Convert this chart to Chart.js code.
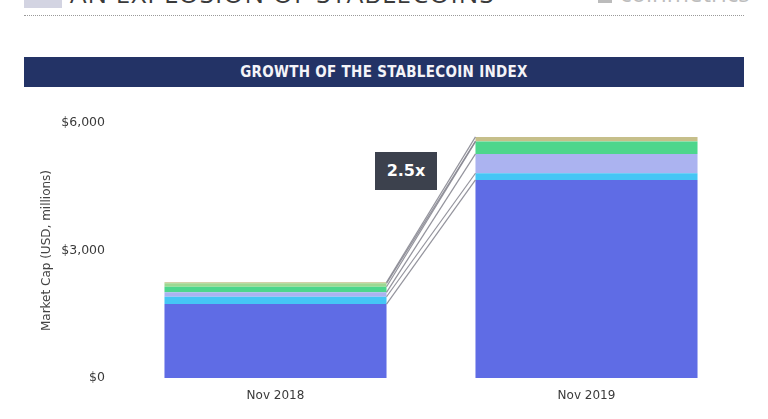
<!DOCTYPE html>
<html>
<head>
<meta charset="utf-8">
<script src="https://cdn.jsdelivr.net/npm/chart.js@4"></script>
<style>
  body { margin: 0; background: #fff; width: 768px; height: 419px; overflow: hidden; position: relative; font-family: "DejaVu Sans", sans-serif; }
  #myChart { position: absolute; left: 0; top: 0; }
  .sq { position: absolute; left: 24px; top: 0; width: 38px; height: 8px; background: #d3d4e2; }
  .head { position: absolute; left: 70px; top: -20px; font: 26px/26px "Open Sans", sans-serif; color: #3a3a3a; letter-spacing: 1px; white-space: nowrap; }
  .logo { position: absolute; left: 598px; top: 0; width: 14px; height: 3px; background: #bbb; }
  .brand { position: absolute; left: 620px; top: -19px; font: 24px/24px "Open Sans", sans-serif; color: #bdbdbd; white-space: nowrap; }
  .dots { position: absolute; left: 24px; top: 15px; width: 720px; border-top: 1px dotted #9a9a9a; }
  .band { position: absolute; left: 24px; top: 57px; width: 720px; height: 30px; background: #233366; color: #f4f4f8;
          font: bold 15px/30px "DejaVu Sans Condensed", sans-serif; letter-spacing: 0.3px; text-align: center; }
  .mult { position: absolute; left: 375px; top: 152px; width: 62px; height: 38px; background: #3c414d; color: #fff;
          font: bold 16px/38px "DejaVu Sans", sans-serif; text-align: center; z-index: 2; }
</style>
</head>
<body>
<div class="sq"></div>
<div class="head">AN EXPLOSION OF STABLECOINS</div>
<div class="logo"></div>
<div class="brand">coinmetrics</div>
<div class="dots"></div>
<div class="band">GROWTH OF THE STABLECOIN INDEX</div>
<canvas id="myChart" width="768" height="419"></canvas>
<div class="mult">2.5x</div>
<script>
const categories = ['Nov 2018', 'Nov 2019'];
const usdtValues = [1740, 4660];
const usdcValues = [172, 158];
const paxValues = [104, 455];
const tusdValues = [132, 290];
const daiValues = [80, 10];
const gusdValues = [25, 100];
const yTicks = [0, 3000, 6000];

// connector lines between the tops of each stacked layer
const connectors = {
  id: 'connectors',
  afterDatasetsDraw(chart) {
    const ctx = chart.ctx;
    const y = chart.scales.y;
    const sums = [0, 0];
    ctx.save();
    ctx.strokeStyle = 'rgba(135,135,145,0.9)';
    ctx.lineWidth = 1.2;
    chart.data.datasets.forEach((ds, i) => {
      sums[0] += ds.data[0];
      sums[1] += ds.data[1];
      const meta = chart.getDatasetMeta(i);
      const b0 = meta.data[0], b1 = meta.data[1];
      ctx.beginPath();
      ctx.moveTo(b0.x + b0.width / 2, y.getPixelForValue(sums[0]));
      ctx.lineTo(b1.x - b1.width / 2, y.getPixelForValue(sums[1]));
      ctx.stroke();
    });
    ctx.restore();
  }
};

const data = {
  labels: categories,
  datasets: [
    { label: 'USDT', data: usdtValues, backgroundColor: '#5f6ce5' },
    { label: 'USDC', data: usdcValues, backgroundColor: '#45c6f5' },
    { label: 'PAX', data: paxValues, backgroundColor: '#abb3f0' },
    { label: 'TUSD', data: tusdValues, backgroundColor: '#4dd68c' },
    { label: 'DAI', data: daiValues, backgroundColor: '#9dd891' },
    { label: 'GUSD', data: gusdValues, backgroundColor: '#c6bf8a' }
  ]
};

const config = {
  type: 'bar',
  data: data,
  options: {
    responsive: false,
    animation: false,
    layout: { padding: { top: 123, right: 26, bottom: 0, left: 0 } },
    datasets: { bar: { barPercentage: 0.714, categoryPercentage: 1, borderWidth: 0 } },
    plugins: { legend: { display: false }, tooltip: { enabled: false } },
    scales: {
      x: {
        stacked: true,
        grid: { display: false, drawTicks: false },
        border: { display: false },
        ticks: { padding: 11, color: '#3a3a3a', font: { family: 'DejaVu Sans', size: 12 } },
        afterFit: s => { s.height = 41; }
      },
      y: {
        stacked: true,
        min: 0,
        max: 6000,
        afterBuildTicks: s => { s.ticks = yTicks.map(v => ({ value: v })); },
        grid: { display: false, drawTicks: false },
        border: { display: false },
        ticks: {
          padding: 15,
          color: '#3a3a3a',
          font: { family: 'DejaVu Sans', size: 12.5 },
          callback: v => '$' + v.toLocaleString('en-US')
        },
        title: {
          display: true,
          text: 'Market Cap (USD, millions)',
          color: '#444',
          font: { family: 'DejaVu Sans', size: 12 },
          padding: { top: 40, bottom: 0 }
        },
        afterFit: s => { s.width = 120; }
      }
    }
  },
  plugins: [connectors]
};

const myChart = new Chart(document.getElementById('myChart'), config);
</script>
</body>
</html>
